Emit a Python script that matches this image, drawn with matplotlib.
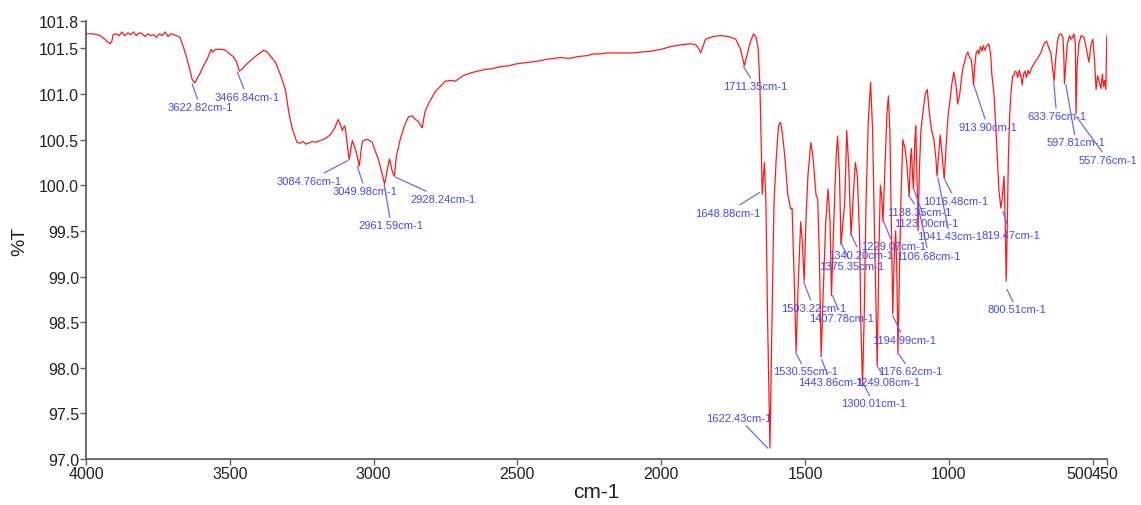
import matplotlib
matplotlib.use("Agg")
import matplotlib.pyplot as plt
import matplotlib.transforms as mtransforms
import numpy as np

plt.rcParams['font.family'] = ['Liberation Sans', 'DejaVu Sans']

# ---- spectrum data (wavenumber cm-1, %T) ----
wavenumber = [
    4000, 3980, 3960, 3950, 3935, 3925, 3916, 3910, 3906, 3895, 3885, 3875, 3865, 3855, 3845,
    3835, 3825, 3815, 3805, 3795, 3785, 3775, 3765, 3755, 3745, 3735, 3725, 3715, 3705, 3695,
    3685, 3673, 3662, 3652, 3640, 3631, 3622, 3612, 3603, 3590, 3579, 3565, 3560, 3550, 3530,
    3516, 3500, 3488, 3478, 3467, 3455, 3447, 3430, 3412, 3395, 3384, 3370, 3355, 3342, 3325,
    3307, 3295, 3283, 3270, 3266, 3255, 3245, 3235, 3227, 3215, 3200, 3193, 3170, 3151, 3135,
    3123, 3115, 3109, 3102, 3099, 3090, 3085, 3078, 3074, 3062, 3050, 3043, 3039, 3028, 3019,
    3005, 2995, 2984, 2970, 2962, 2952, 2945, 2935, 2928, 2921, 2907, 2893, 2879, 2865, 2858,
    2845, 2838, 2831, 2822, 2810, 2785, 2751, 2730, 2716, 2690, 2664, 2640, 2610, 2585, 2559,
    2530, 2505, 2480, 2455, 2430, 2400, 2375, 2350, 2320, 2290, 2260, 2235, 2211, 2190, 2141,
    2100, 2070, 2037, 2000, 1967, 1930, 1898, 1880, 1870, 1863, 1855, 1846, 1820, 1793, 1765,
    1741, 1725, 1711, 1700, 1689, 1679, 1670, 1663, 1657, 1652, 1649, 1645, 1641, 1636, 1630,
    1622, 1615, 1608, 1600, 1592, 1585, 1578, 1570, 1560, 1550, 1545, 1537, 1531, 1524, 1515,
    1510, 1503, 1497, 1490, 1480, 1472, 1462, 1456, 1450, 1444, 1437, 1428, 1420, 1413, 1408,
    1400, 1392, 1387, 1380, 1375, 1368, 1362, 1355, 1348, 1340, 1332, 1325, 1318, 1310, 1306,
    1300, 1294, 1288, 1280, 1272, 1265, 1258, 1249, 1243, 1238, 1234, 1229, 1222, 1215, 1210,
    1205, 1200, 1195, 1190, 1185, 1181, 1177, 1172, 1166, 1160, 1152, 1145, 1138, 1133, 1130,
    1126, 1123, 1118, 1115, 1110, 1107, 1102, 1097, 1090, 1082, 1075, 1068, 1060, 1052, 1045,
    1041, 1036, 1030, 1025, 1020, 1016, 1010, 1003, 997, 990, 983, 975, 969, 962, 955,
    950, 945, 940, 934, 928, 922, 918, 914, 910, 905, 900, 895, 890, 885, 880,
    875, 870, 861, 855, 850, 843, 836, 830, 826, 819, 815, 811, 808, 804, 800.5,
    797, 793, 788, 783, 778, 774, 770, 765, 760, 755, 750, 745, 740, 735, 730,
    725, 720, 710, 700, 690, 680, 675, 669, 660, 652, 645, 640, 634, 628, 622,
    617, 610, 603, 600, 598, 594, 588, 580, 575, 570, 565, 560, 557.8, 554, 548,
    540, 530, 522, 513, 505, 499, 493, 488, 483, 478, 471, 466, 462, 458, 454,
    451, 450,
]
transmittance = [
    101.66, 101.66, 101.65, 101.64, 101.60, 101.57, 101.55, 101.58, 101.65, 101.66, 101.64, 101.68, 101.64, 101.67, 101.65,
    101.68, 101.64, 101.67, 101.66, 101.63, 101.66, 101.64, 101.65, 101.62, 101.66, 101.64, 101.68, 101.63, 101.66, 101.65,
    101.64, 101.62, 101.52, 101.42, 101.28, 101.16, 101.12, 101.18, 101.23, 101.32, 101.38, 101.49, 101.46, 101.49, 101.49,
    101.48, 101.44, 101.41, 101.36, 101.25, 101.28, 101.31, 101.36, 101.41, 101.45, 101.48, 101.46, 101.40, 101.35, 101.22,
    101.05, 100.80, 100.62, 100.50, 100.47, 100.46, 100.48, 100.45, 100.46, 100.48, 100.47, 100.48, 100.51, 100.55, 100.63,
    100.72, 100.66, 100.60, 100.65, 100.64, 100.40, 100.28, 100.42, 100.49, 100.38, 100.21, 100.40, 100.48, 100.50, 100.50,
    100.47, 100.38, 100.29, 100.12, 100.01, 100.18, 100.29, 100.15, 100.10, 100.32, 100.51, 100.65, 100.75, 100.76, 100.73,
    100.70, 100.66, 100.63, 100.80, 100.89, 101.03, 101.14, 101.15, 101.14, 101.20, 101.23, 101.25, 101.27, 101.28, 101.30,
    101.31, 101.33, 101.34, 101.35, 101.36, 101.38, 101.39, 101.40, 101.39, 101.41, 101.42, 101.44, 101.44, 101.45, 101.45,
    101.45, 101.46, 101.47, 101.49, 101.52, 101.54, 101.55, 101.54, 101.50, 101.45, 101.52, 101.60, 101.63, 101.64, 101.63,
    101.60, 101.50, 101.31, 101.45, 101.58, 101.66, 101.62, 101.50, 101.10, 100.40, 99.90, 100.10, 100.25, 99.80, 98.50,
    97.12, 98.50, 99.80, 100.30, 100.66, 100.69, 100.55, 100.30, 99.90, 99.74, 99.75, 98.90, 98.18, 98.90, 99.60,
    99.40, 98.95, 99.60, 100.10, 100.47, 100.30, 99.90, 99.85, 99.20, 98.12, 98.80, 99.60, 99.96, 99.60, 98.79,
    99.60, 100.30, 100.54, 100.10, 99.35, 99.60, 99.80, 100.60, 100.20, 99.45, 99.90, 100.25, 100.10, 99.40, 98.50,
    97.80, 98.60, 99.80, 100.70, 101.13, 100.60, 99.40, 98.02, 99.30, 100.00, 99.90, 99.60, 100.20, 100.80, 100.98,
    100.60, 99.60, 98.59, 99.20, 99.50, 99.10, 98.15, 99.00, 99.90, 100.50, 100.40, 100.20, 99.88, 100.30, 100.40,
    100.10, 99.96, 100.50, 100.65, 100.00, 99.50, 100.20, 100.60, 100.80, 101.00, 101.05, 100.80, 100.60, 100.50, 100.30,
    100.10, 100.30, 100.55, 100.40, 100.20, 100.07, 100.40, 100.75, 100.90, 101.10, 101.24, 101.10, 100.89, 101.00, 101.20,
    101.30, 101.35, 101.42, 101.46, 101.40, 101.38, 101.25, 101.10, 101.30, 101.45, 101.48, 101.44, 101.52, 101.47, 101.53,
    101.48, 101.52, 101.55, 101.45, 101.20, 101.00, 100.60, 100.20, 99.95, 99.75, 99.85, 100.00, 100.10, 99.60, 98.95,
    99.50, 100.30, 100.80, 101.05, 101.20, 101.20, 101.25, 101.24, 101.18, 101.26, 101.20, 101.10, 101.22, 101.25, 101.18,
    101.26, 101.22, 101.30, 101.35, 101.40, 101.45, 101.50, 101.55, 101.58, 101.50, 101.45, 101.30, 101.14, 101.40, 101.58,
    101.65, 101.66, 101.62, 101.40, 101.11, 101.30, 101.55, 101.64, 101.60, 101.62, 101.66, 101.55, 100.78, 101.30, 101.55,
    101.64, 101.62, 101.50, 101.35, 101.55, 101.60, 101.35, 101.05, 101.20, 101.15, 101.06, 101.22, 101.08, 101.15, 101.05,
    101.60, 101.64,
]

# ---- peak labels ----
peak_labels = [
    "3622.82cm-1", "3466.84cm-1", "3084.76cm-1", "3049.98cm-1", "2961.59cm-1", "2928.24cm-1",
    "1711.35cm-1", "1648.88cm-1", "1622.43cm-1", "1530.55cm-1", "1503.22cm-1", "1443.86cm-1",
    "1407.78cm-1", "1375.35cm-1", "1340.20cm-1", "1300.01cm-1", "1249.08cm-1", "1229.07cm-1",
    "1194.99cm-1", "1176.62cm-1", "1138.35cm-1", "1123.00cm-1", "1106.68cm-1", "1041.43cm-1",
    "1016.48cm-1", "913.90cm-1", "819.47cm-1", "800.51cm-1", "633.76cm-1", "597.81cm-1",
    "557.76cm-1",
]
# leader line start (near the curve), data coords
line_start_w = [3631, 3474, 3090, 3057, 2963, 2925, 1714, 1658, 1630, 1533, 1505, 1442,
                1404, 1376, 1341, 1296, 1247, 1227, 1195, 1174, 1140, 1122, 1108, 1038,
                1014, 913, 812, 798, 635, 593, 556]
line_start_t = [101.11, 101.24, 100.27, 100.21, 100.00, 100.09, 101.30, 99.92, 97.12, 98.17,
                98.94, 98.09, 98.79, 99.38, 99.47, 97.82, 98.01, 99.61, 98.57, 98.15, 99.89,
                99.96, 99.79, 100.08, 100.06, 101.10, 99.71, 98.86, 101.13, 101.10, 100.75]
# label text centres, data coords
text_w = [3603, 3440, 3224, 3029, 2939, 2758, 1672, 1770, 1731, 1498, 1470, 1411,
          1373, 1338, 1307, 1262, 1213, 1192, 1154, 1133, 1101, 1080, 1070, 997,
          976, 865, 785, 764, 625, 558, 447]
text_t = [100.86, 100.97, 100.05, 99.94, 99.56, 99.85, 101.09, 99.70, 97.45, 97.96,
          98.66, 97.84, 98.55, 99.12, 99.24, 97.61, 97.84, 99.33, 98.30, 97.96, 99.71,
          99.59, 99.23, 99.44, 99.83, 100.64, 99.46, 98.64, 100.76, 100.47, 100.28]

x_ticks = [4000, 3500, 3000, 2500, 2000, 1500, 1000, 500, 450]
y_ticks = [97.0, 97.5, 98.0, 98.5, 99.0, 99.5, 100.0, 100.5, 101.0, 101.5, 101.8]

fig = plt.figure(figsize=(11.41, 5.06), dpi=100)
ax = fig.add_axes([0.0754, 0.0909, 0.8948, 0.8656])

ax.plot(wavenumber, transmittance, color='#ff1a1a', lw=0.9)

label_color = '#4646ff'
for lab, lw_, lt_, tw_, tt_ in zip(peak_labels, line_start_w, line_start_t, text_w, text_t):
    ax.annotate(lab, xy=(lw_, lt_), xytext=(tw_, tt_), ha='center', va='center',
                fontsize=8, color=label_color, annotation_clip=False,
                arrowprops=dict(arrowstyle='-', color='#6a6aff', lw=0.9,
                                shrinkA=0, shrinkB=0))

ax.set_xlim(4000, 450)
ax.set_ylim(97.0, 101.8)
ax.set_xticks(x_ticks)
ax.set_xticklabels([str(v) for v in x_ticks])
ax.set_yticks(y_ticks)
ax.set_yticklabels([f"{v:.1f}" for v in y_ticks])

for s in ['top', 'right']:
    ax.spines[s].set_visible(False)
for s in ['left', 'bottom']:
    ax.spines[s].set_color('#606060')
    ax.spines[s].set_linewidth(1.3)
ax.tick_params(axis='both', direction='out', length=4, width=1.0, colors='#606060',
               labelcolor='#222222', labelsize=11.5, pad=1)

# the last two x tick labels sit side by side as in the reference
xt = ax.get_xticklabels()
xt[-2].set_ha('right')
xt[-1].set_ha('left')
xt[-1].set_transform(xt[-1].get_transform() +
                     mtransforms.ScaledTranslation(-15 / 100, 0, fig.dpi_scale_trans))

ax.set_xlabel('cm-1', fontsize=15, color='#222222', labelpad=1)
ax.set_ylabel('%T', fontsize=14, color='#222222', labelpad=8)

fig.savefig('out.png', dpi=100)
